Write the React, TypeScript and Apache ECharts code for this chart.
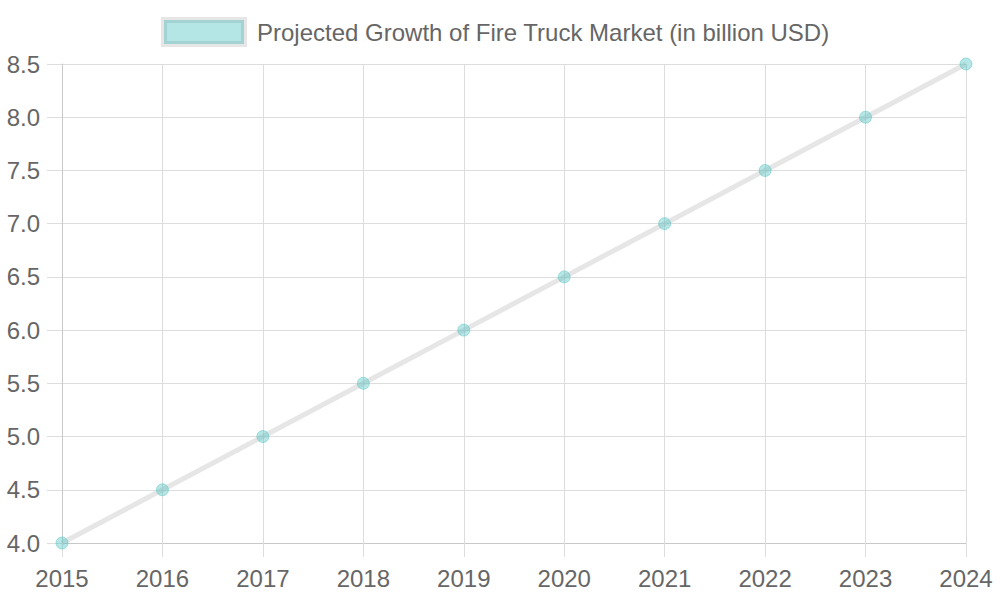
import React, { useEffect, useRef } from "react";
import * as echarts from "echarts";

const years = ["2015", "2016", "2017", "2018", "2019", "2020", "2021", "2022", "2023", "2024"];
const marketSize = [4.0, 4.5, 5.0, 5.5, 6.0, 6.5, 7.0, 7.5, 8.0, 8.5];
const seriesName = "Projected Growth of Fire Truck Market (in billion USD)";

const FONT = "'Liberation Sans', Arial, Helvetica, sans-serif";
const TEXT = "#666666";
const GRID = "#dddddd";

export default function App() {
  const ref = useRef<HTMLDivElement>(null);

  useEffect(() => {
    if (!ref.current) return;
    const chart = echarts.init(ref.current, null, { renderer: "svg" });
    chart.setOption({
      animation: false,
      backgroundColor: "#ffffff",
      grid: { left: 62, right: 34, top: 64, bottom: 57, containLabel: false },
      xAxis: {
        type: "category",
        data: years,
        boundaryGap: false,
        axisLine: { show: true, lineStyle: { color: "#c8c8c8", width: 1 } },
        axisTick: { show: true, alignWithLabel: true, length: 14, lineStyle: { color: GRID } },
        splitLine: { show: true, lineStyle: { color: GRID, width: 1 } },
        axisLabel: { color: TEXT, fontSize: 24, fontFamily: FONT, margin: 23 },
      },
      yAxis: {
        type: "value",
        min: 4,
        max: 8.5,
        interval: 0.5,
        axisLine: { show: true, lineStyle: { color: "#c8c8c8", width: 1 } },
        axisTick: { show: true, length: 15, lineStyle: { color: GRID } },
        splitLine: { show: true, lineStyle: { color: GRID, width: 1 } },
        axisLabel: {
          color: TEXT,
          fontSize: 24,
          fontFamily: FONT,
          margin: 22,
          formatter: (v: number) => v.toFixed(1),
        },
      },
      series: [
        {
          name: seriesName,
          type: "line",
          data: marketSize,
          symbol: "circle",
          symbolSize: 12,
          lineStyle: { color: "rgba(200,200,200,0.45)", width: 5 },
          itemStyle: {
            color: "rgba(75,192,192,0.4)",
            borderColor: "rgba(75,192,192,0.45)",
            borderWidth: 1,
          },
          z: 3,
        },
      ],
      graphic: [
        {
          type: "rect",
          shape: { x: 162.5, y: 18.5, width: 83, height: 27 },
          style: { fill: "#b4e6e6", stroke: "#e6e6e6", lineWidth: 3 },
        },
        {
          type: "rect",
          shape: { x: 165.5, y: 21.5, width: 77, height: 21 },
          style: { fill: "#b4e6e6", stroke: "#a3d3d3", lineWidth: 3 },
        },
        {
          type: "text",
          x: 257,
          y: 32,
          style: {
            text: seriesName,
            fill: TEXT,
            fontSize: 24,
            fontFamily: FONT,
            verticalAlign: "middle",
            align: "left",
          },
        },
      ],
    });
    return () => chart.dispose();
  }, []);

  return <div ref={ref} style={{ width: 1000, height: 600, position: "absolute", left: 0, top: 0 }} />;
}
